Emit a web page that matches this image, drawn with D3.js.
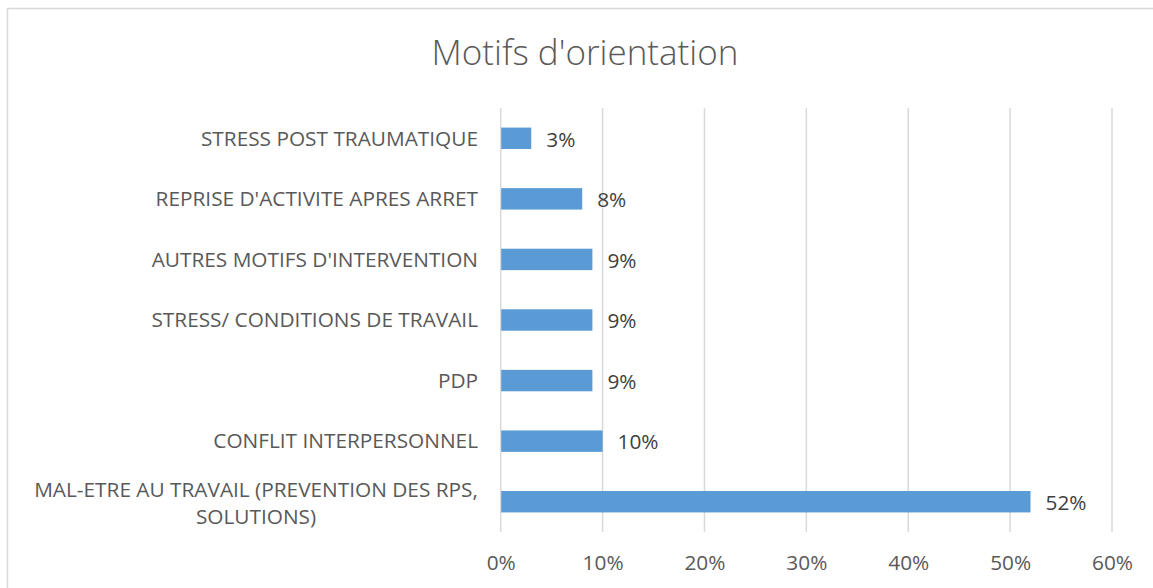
<!DOCTYPE html>
<html><head><meta charset="utf-8">
<script src="https://cdn.jsdelivr.net/npm/d3@7"></script>
<style>
html,body{margin:0;padding:0;background:#fff;}
svg{display:block;}
</style></head>
<body>
<svg id="chart" width="1153" height="588"></svg>
<script>
const title = "Motifs d'orientation";
const categories = [
  "STRESS POST TRAUMATIQUE",
  "REPRISE D'ACTIVITE APRES ARRET",
  "AUTRES MOTIFS D'INTERVENTION",
  "STRESS/ CONDITIONS DE TRAVAIL",
  "PDP",
  "CONFLIT INTERPERSONNEL",
  "MAL-ETRE AU TRAVAIL (PREVENTION DES RPS,|SOLUTIONS)"
];
const values = [0.03, 0.08, 0.09, 0.09, 0.09, 0.10, 0.52];
const valueLabels = ["3%", "8%", "9%", "9%", "9%", "10%", "52%"];
const tickValues = [0, 0.1, 0.2, 0.3, 0.4, 0.5, 0.6];

const svg = d3.select("#chart");
const font = "'Open Sans', 'Liberation Sans', sans-serif";
const fs = 20.8;

// frame
svg.append("rect").attr("x", 7.5).attr("y", 8.5).attr("width", 1160).attr("height", 600)
  .attr("fill", "#fff").attr("stroke", "#d9d9d9").attr("stroke-width", 1.5);

svg.append("text").attr("x", 585).attr("y", 65).attr("text-anchor", "middle")
  .attr("font-family", font).attr("font-weight", 300).attr("font-size", 35)
  .attr("fill", "#595959").text(title);

const x = d3.scaleLinear().domain([0, 0.6]).range([500.7, 1112]);
const y = d3.scaleBand().domain(categories).range([108, 532]).paddingInner(0.646).paddingOuter(0.323);

// grid
svg.append("g").selectAll("line").data(tickValues).join("line")
  .attr("x1", d => x(d)).attr("x2", d => x(d)).attr("y1", 108).attr("y2", 532)
  .attr("stroke", "#d9d9d9").attr("stroke-width", 1.5);

// x axis labels
const xAxis = d3.axisBottom(x).tickValues(tickValues).tickFormat(d3.format(".0%")).tickSize(0).tickPadding(0);
const gx = svg.append("g").attr("transform", "translate(0,563)").call(xAxis);
gx.select(".domain").remove();
gx.selectAll("text").attr("font-family", font).attr("font-size", fs).attr("fill", "#595959").attr("dy", "0.35em").attr("y", 0);

// bars
svg.append("g").selectAll("rect").data(values).join("rect")
  .attr("x", x(0) + 0.5).attr("y", (d, i) => y(categories[i]))
  .attr("width", d => x(d) - x(0) - 0.5).attr("height", y.bandwidth())
  .attr("fill", "#5b9bd5");

// value labels
svg.append("g").selectAll("text").data(values).join("text")
  .attr("x", d => x(d) + 15).attr("y", (d, i) => y(categories[i]) + y.bandwidth() / 2 + 1)
  .attr("dy", "0.35em").attr("font-family", font).attr("font-size", fs).attr("fill", "#404040")
  .text((d, i) => valueLabels[i]);

// category labels
const yAxis = d3.axisLeft(y).tickSize(0).tickPadding(0);
const gy = svg.append("g").attr("transform", "translate(478,0)").call(yAxis);
gy.select(".domain").remove();
gy.selectAll("text").each(function(d) {
  const t = d3.select(this);
  const lines = d.split("|");
  t.text(null).attr("font-family", font).attr("font-size", fs).attr("fill", "#595959").attr("x", 0).attr("dy", null);
  if (lines.length === 1) {
    t.append("tspan").attr("x", 0).attr("dy", "0.35em").text(lines[0]);
  } else {
    t.attr("text-anchor", "middle").attr("x", -222);
    t.append("tspan").attr("x", -222).attr("dy", "-0.25em").text(lines[0]);
    t.append("tspan").attr("x", -222).attr("dy", "1.3em").text(lines[1]);
  }
});
</script>
</body></html>
